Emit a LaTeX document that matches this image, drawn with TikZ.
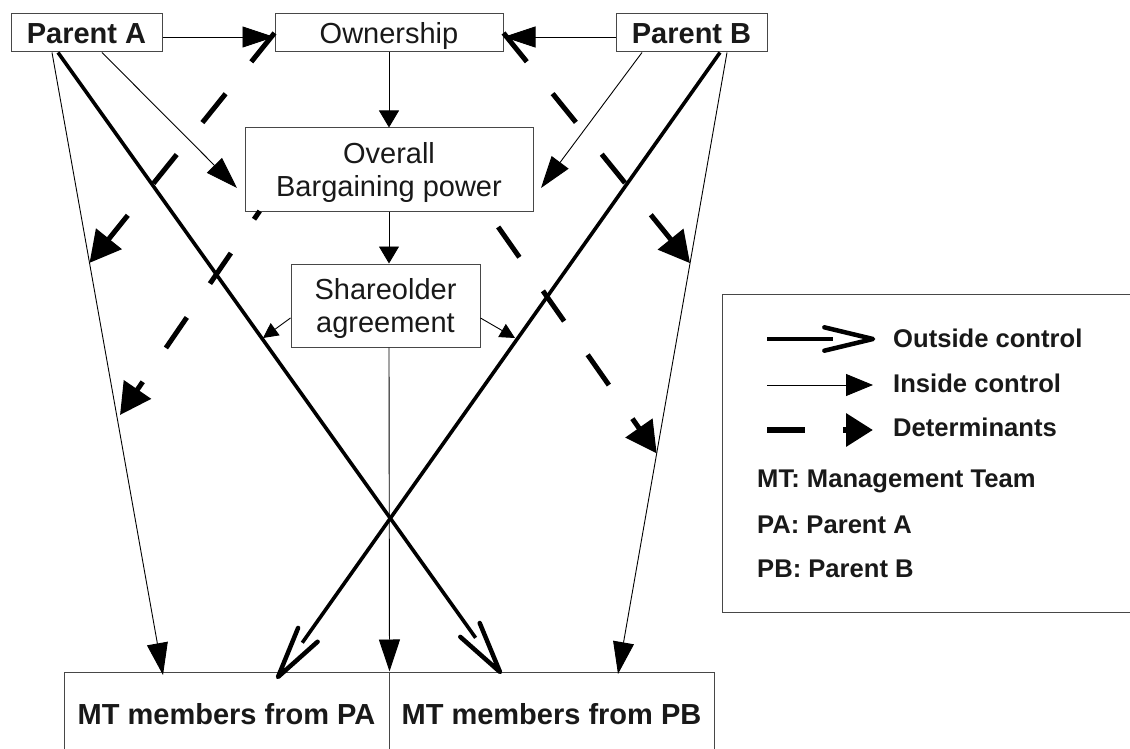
\documentclass[tikz,border=0pt]{standalone}
\usepackage{fontspec}
\setmainfont{Liberation Sans}
\usetikzlibrary{arrows.meta,calc}
\begin{document}
\begin{tikzpicture}[x=1pt,y=-1pt,
  box/.style={draw=black!72, line width=1pt, fill=white, inner sep=0pt, text=black!90,
    font=\fontsize{29}{33}\selectfont, align=center, text depth=0pt},
  onebox/.style={box, text height=22pt},
  inside/.style={line width=0.9pt, -{Triangle[length=32pt,width=21pt]}},
  insidesmall/.style={line width=0.9pt, -{Triangle[length=17pt,width=20pt]}},
  insidetiny/.style={line width=0.9pt, -{Triangle[length=15pt,width=15pt]}},
  outside/.style={line width=3.6pt},
  vhead/.style={line width=4.5pt, line cap=round, line join=round},
  determ/.style={line width=5pt, dash pattern=on 37pt off 41pt, -{Triangle[length=31pt,width=32pt]}},
  legtext/.style={anchor=base west, inner sep=0pt, font=\fontsize{25.6}{30}\selectfont\bfseries, text=black!90},
]
\useasboundingbox (0,0) rectangle (1130,749);

% boxes
\node[onebox, font=\fontsize{29}{33}\selectfont\bfseries, minimum width=151pt, minimum height=38pt] (pa) at (86.5,33) {Parent A};
\node[onebox, minimum width=228pt, minimum height=38pt] (own) at (389,33) {Ownership};
\node[onebox, font=\fontsize{29}{33}\selectfont\bfseries, minimum width=151pt, minimum height=38pt] (pb) at (691.5,33) {Parent B};
\node[box, minimum width=288pt, minimum height=83pt] (ov) at (389,169.5) {Overall\\Bargaining power};
\node[box, minimum width=189pt, minimum height=83pt] (sh) at (385.5,305.5) {Shareolder\\agreement};
\node[onebox, font=\fontsize{29}{33}\selectfont\bfseries, minimum width=325pt, minimum height=82pt] (mtpa) at (226.5,713) {MT members from PA};
\node[onebox, font=\fontsize{29}{33}\selectfont\bfseries, minimum width=325pt, minimum height=82pt] (mtpb) at (551.5,713) {MT members from PB};
\node[draw=black!72, line width=1pt, minimum width=428pt, minimum height=318pt, inner sep=0pt] (legend) at (936,453) {};

% named end points
\coordinate (thinAs) at ([xshift=-34.5pt]pa.south);
\coordinate (thinAe) at (163,675);
\coordinate (thickAs) at ([xshift=-28.5pt]pa.south);
\coordinate (thickAe) at (500,672);
\coordinate (thinBs) at ([xshift=35.5pt]pb.south);
\coordinate (thinBe) at (618,674);
\coordinate (thickBs) at ([xshift=28.5pt]pb.south);
\coordinate (thickBe) at (278,677);
\coordinate (ovL) at (237,188);
\coordinate (ovR) at (541,188);
\coordinate (onA) at (263,338);
\coordinate (onB) at (515,338);
\coordinate (L3s) at (259.7,211);
\coordinate (L4s) at (487,211);

% inside control
\draw[inside] ([yshift=-4pt]pa.east) -- ([yshift=-4pt]own.west);
\draw[inside] ([yshift=-4pt]pb.west) -- ([yshift=-4pt]own.east);
\draw[inside] ([xshift=15.5pt]pa.south) -- (ovL);
\draw[inside] ([xshift=-49.5pt]pb.south) -- (ovR);
\draw[inside] (thinAs) -- (thinAe);
\draw[inside] (thinBs) -- (thinBe);
\draw[insidesmall] (own.south) -- (ov.north);
\draw[insidesmall] (ov.south) -- (ov.south |- sh.north);
\draw[inside] (ov.south |- sh.south) -- (mtpa.north east);
\draw[insidetiny] ([yshift=-12.5pt]sh.west) -- (onA);
\draw[insidetiny] ([yshift=-12.5pt]sh.east) -- (onB);

% outside control
\draw[outside] (thickAs) -- ($(thickAe)!42pt!(thickAs)$);
\draw[vhead] ($(thickAe)!53pt!13:(thickAs)$) -- (thickAe) -- ($(thickAe)!53pt!-13:(thickAs)$);
\draw[outside] (thickBs) -- ($(thickBe)!42pt!(thickBs)$);
\draw[vhead] ($(thickBe)!53pt!13:(thickBs)$) -- (thickBe) -- ($(thickBe)!53pt!-13:(thickBs)$);

% determinants
\draw[determ] (own.west) -- ($(thinAs)!0.338!(thinAe)$);
\draw[determ] (own.east) -- ($(thinBs)!0.339!(thinBe)$);
\draw[determ, dash phase=27pt] (L3s) -- (120,415);
\draw[determ, dash phase=58.5pt] (L4s) -- ($(thinBs)!0.645!(thinBe)$);

% legend
\coordinate (lo1) at (767,339); \coordinate (lo2) at (873,339);
\draw[line width=4.5pt] (lo1) -- ($(lo2)!40pt!(lo1)$);
\draw[vhead] ($(lo2)!50pt!13.5:(lo1)$) -- (lo2) -- ($(lo2)!50pt!-13.5:(lo1)$);
\coordinate (li1) at (767,385); \coordinate (li2) at (873,385);
\draw[line width=0.9pt, -{Triangle[length=27pt,width=22pt]}] (li1) -- (li2);
\coordinate (ld1) at (767,430); \coordinate (ld2) at (873,430);
\draw[line width=6.5pt, dash pattern=on 38pt off 38pt, -{Triangle[length=27pt,width=32pt]}] (ld1) -- (ld2);
\node[legtext] (t1) at (893,347) {Outside control};
\node[legtext] (t2) at (893,392) {Inside control};
\node[legtext] (t3) at (893,436) {Determinants};
\node[legtext] (t4) at (757,487) {MT: Management Team};
\node[legtext] (t5) at (757,533) {PA: Parent A};
\node[legtext] (t6) at (757,577) {PB: Parent B};
\end{tikzpicture}
\end{document}
